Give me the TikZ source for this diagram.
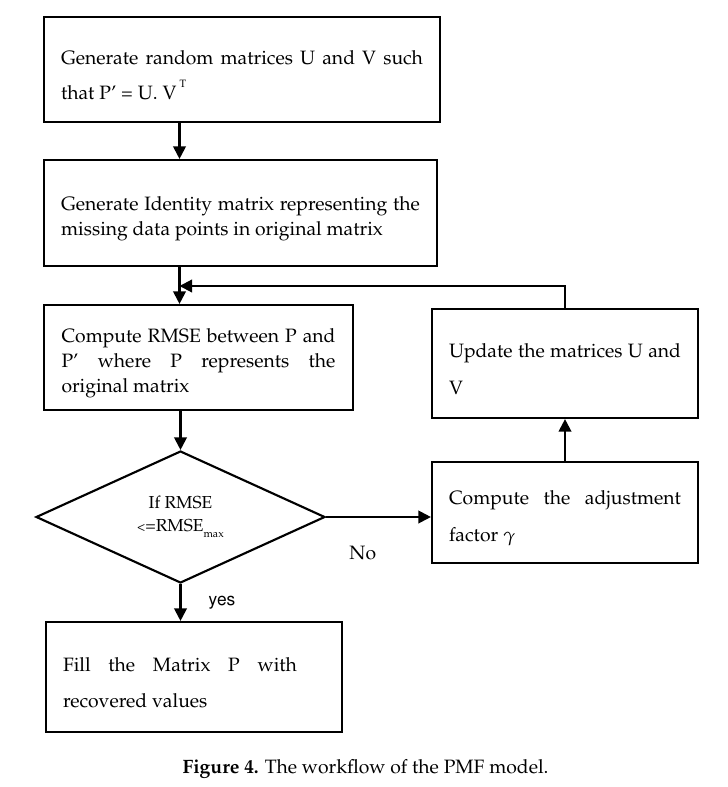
\documentclass[tikz,border=0pt]{standalone}
\usepackage[T1]{fontenc}
\usepackage{mathpazo}
\usetikzlibrary{shapes,arrows,arrows.meta}
\tikzstyle{block} = [draw, rectangle, align=justify, inner xsep=12.75pt,
    execute at begin node=\rule{0pt}{19pt},
    font=\fontsize{14.5}{19}\selectfont]
\tikzstyle{wide} = [font=\fontsize{14.5}{27.5}\selectfont]
\tikzstyle{decision} = [draw, diamond, inner sep=0pt, align=center,
    minimum width=216.75pt, minimum height=99pt,
    font=\fontsize{13}{17}\selectfont]
\tikzstyle{branch} = [font=\fontsize{14.5}{19}\selectfont]

\begin{document}
\begin{tikzpicture}[auto, x=0.75pt, y=-0.75pt, line width=1.6pt,
        >={Triangle[length=9.5pt,width=9.5pt]}]
    \useasboundingbox (0,0) rectangle (727,787);
    % We start by placing the blocks of the main column
    \node [block, minimum width=297pt, minimum height=78.75pt,
            text width=271.5pt, font=\fontsize{14.5}{26}\selectfont]
        (random) at (242,69.5) {Generate random matrices U and V such \linebreak
        that P' = U.\ V\,\raisebox{9pt}{\footnotesize T}};
    \node [block, minimum width=294.75pt, minimum height=79.5pt,
            text width=269pt] (identity) at (240.5,213)
        {Generate Identity matrix representing the \linebreak
        missing data points in original matrix};
    \node [block, minimum width=231.75pt, minimum height=78.75pt,
            text width=205.5pt] (rmse) at (198.5,357.5)
        {Compute RMSE between P and \linebreak
        P' where P represents the \linebreak original matrix};
    \node [decision] (check) at (180.5,517)
        {If RMSE\\ {\fontsize{10}{10}\selectfont\textless}=RMSE\raisebox{-5pt}{\fontsize{8}{8}\selectfont max}};
    \node [block, wide, minimum width=222pt, minimum height=82.5pt,
            text width=196.5pt] (fill) at (194,677)
        {\parbox{175.5pt}{\rightskip=0pt\relax\rule{0pt}{19pt}%
        Fill the Matrix P with \linebreak recovered values}};
    % The blocks of the update loop
    \node [block, wide, minimum width=199.5pt, minimum height=75.75pt,
            text width=174pt] (adjust) at (565,512.5)
        {Compute the adjustment \linebreak factor $\gamma$};
    \node [block, wide, minimum width=199.5pt, minimum height=81.75pt,
            text width=174pt] (update) at (565,363.5)
        {Update the matrices U and \linebreak V};
    \node [font=\fontsize{14.5}{19}\selectfont, anchor=base] (caption)
        at (365.5,773) {\textbf{Figure 4.} The workflow of the PMF model.};

    % The main column runs down through this coordinate
    \coordinate (col) at (179.5,0);
    \coordinate (join) at (179.5,286);

    % Once the nodes are placed, connecting them is easy.
    \draw [->] (random.south -| col) -- (identity.north -| col);
    \draw [->] (identity.south -| col) -- (rmse.north -| col);
    \draw [->] (rmse.south -| check.north) -- (check.north);
    \draw [->] (check.south) -- node [pos=0.5, right=17pt,
            font=\fontsize{13}{16}\fontfamily{phv}\selectfont] {yes}
        (fill.north -| check.south);
    \draw [->] (check.east) -- node [branch, pos=0.35, below=18pt] {No}
        (check.east -| adjust.west);
    \draw [->] (adjust) -- (update);
    \draw [->] (update.north) |- (join);
\end{tikzpicture}
\end{document}
